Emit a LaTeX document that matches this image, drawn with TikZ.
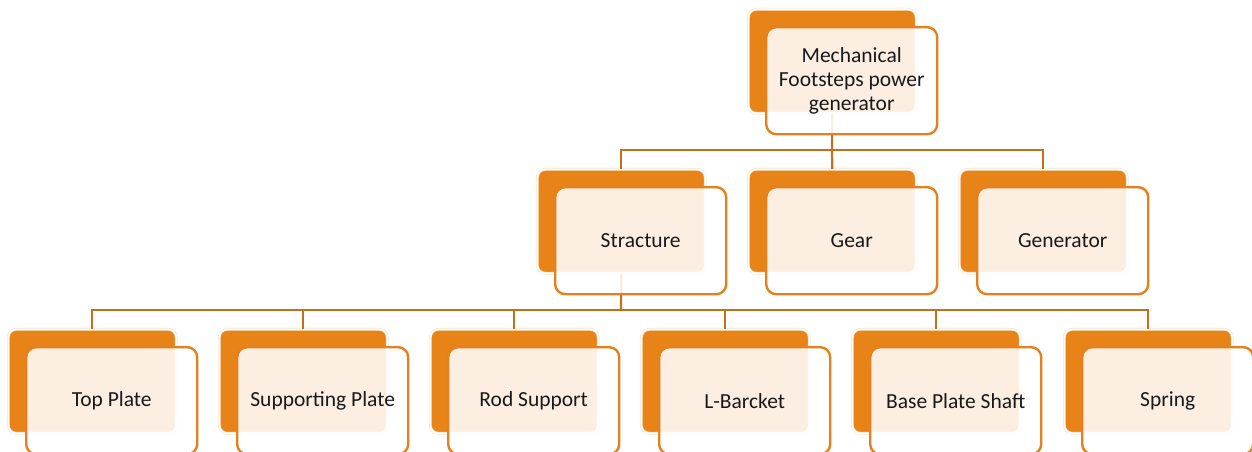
\documentclass[tikz,border=0pt]{standalone}
\usepackage{fontspec}
\setmainfont{Carlito}
\definecolor{boxorange}{RGB}{232,131,24}
\definecolor{edgeorange}{RGB}{230,128,30}
\definecolor{linkbrown}{RGB}{195,112,30}
\begin{document}
\begin{tikzpicture}[x=1pt,y=-1pt,
  backbox/.style={anchor=north west, minimum width=168pt, minimum height=104pt, inner sep=0pt,
    rounded corners=8pt, fill=boxorange, draw=boxorange!22, double=white, double distance=1.6pt, line width=0.6pt},
  frontbox/.style={anchor=north west, minimum width=171pt, minimum height=107pt, inner sep=0pt,
    rounded corners=10pt, fill=white, fill opacity=0.88, text opacity=1, draw=edgeorange, draw opacity=1,
    line width=2.4pt, font=\fontsize{21.5}{24}\selectfont, align=center, text=black!90},
  conn/.style={draw=linkbrown, line width=2.2pt}]
\useasboundingbox (0,0) rectangle (1252,452);
\clip (0,0) rectangle (1252,452);
% back boxes
\node[backbox] (topb) at (748,9) {};
\node[backbox] (sb) at (537,169) {};
\node[backbox] (gb) at (748,169) {};
\node[backbox] (genb) at (959,169) {};
\node[backbox] (tpb) at (8,329) {};
\node[backbox] (spb) at (219,329) {};
\node[backbox] (rsb) at (430,329) {};
\node[backbox] (lbb) at (641,329) {};
\node[backbox] (bpb) at (852,329) {};
\node[backbox] (sgb) at (1064,329) {};
% connectors
\coordinate (j1) at (832,150);
\coordinate (j2) at (621,310);
\draw[conn] (topb.south) -- (j1);
\draw[conn] (sb.north) |- (j1) -| (genb.north);
\draw[conn] (j1) -- (gb.north);
\draw[conn] (sb.south) -- (j2);
\draw[conn] (tpb.north) |- (j2) -| (sgb.north);
\draw[conn] (spb.north) |- (j2);
\draw[conn] (rsb.north) |- (j2);
\draw[conn] (lbb.north) |- (j2);
\draw[conn] (bpb.north) |- (j2);
% front boxes
\node[frontbox] (top) at (765,26) {Mechanical\\Footsteps power\\generator};
\node[frontbox] (s) at (554,186) {Stracture};
\node[frontbox] (g) at (765,186) {Gear};
\node[frontbox] (gen) at (976,186) {Generator};
\node[frontbox] (tp) at (25,346) {Top Plate};
\node[frontbox] (sp) at (236,346) {Supporting Plate};
\node[frontbox] (rs) at (447,346) {Rod Support};
\node[frontbox] (lb) at (658,346) {L-Barcket};
\node[frontbox] (bp) at (869,346) {Base Plate Shaft};
\node[frontbox] (sg) at (1081,346) {Spring};
\end{tikzpicture}
\end{document}
